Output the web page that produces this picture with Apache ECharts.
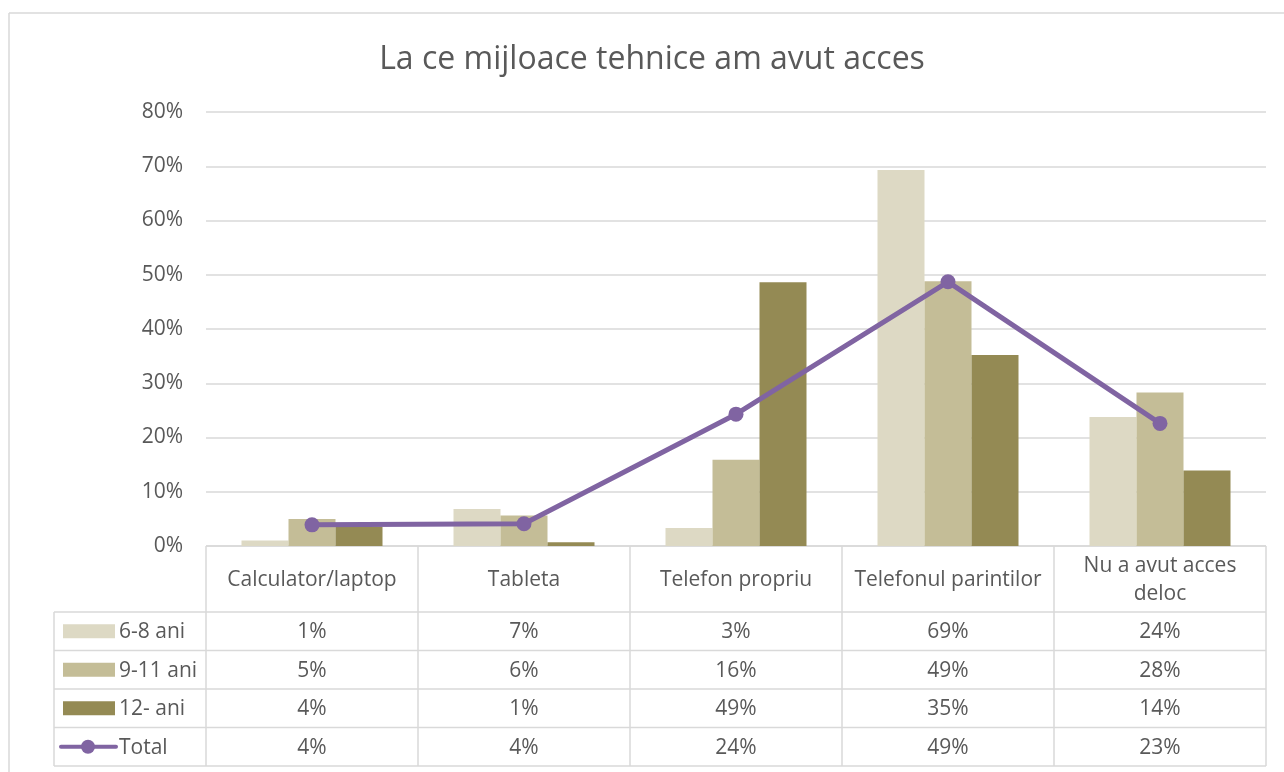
<!DOCTYPE html>
<html>
<head>
<meta charset="utf-8">
<script src="https://cdn.jsdelivr.net/npm/echarts@6/dist/echarts.min.js"></script>
<style>
html,body{margin:0;padding:0;background:#fff;}
#chart{width:1284px;height:772px;}
</style>
</head>
<body>
<div id="chart"></div>
<script>
const categories = ['Calculator/laptop', 'Tableta', 'Telefon propriu', 'Telefonul parintilor', 'Nu a avut acces\ndeloc'];
const seriesNames = ['6-8 ani', '9-11 ani', '12- ani', 'Total'];
const age6to8 = [1.0, 6.8, 3.3, 69.3, 23.8];
const age9to11 = [5.0, 5.6, 15.9, 48.8, 28.3];
const age12 = [3.6, 0.7, 48.6, 35.2, 13.9];
const total = [3.9, 4.1, 24.3, 48.7, 22.6];
const yTicks = [0, 10, 20, 30, 40, 50, 60, 70, 80];

const colors = ['#DDD9C4', '#C4BD97', '#948A54', '#8064A2'];
const FONT = '"Open Sans", "Noto Sans", sans-serif';
const TXT = '#595959';
const LINE = '#D9D9D9';

const W = 1284, H = 772;
const gridLeft = 206, gridRightX = 1266, gridTop = 112, axisBottom = 546;
const headerBottom = 612, tableBottom = 766, legendLeft = 54;

const chart = echarts.init(document.getElementById('chart'), null, {renderer: 'canvas'});

const barData = [age6to8, age9to11, age12];
const allRows = [age6to8, age9to11, age12, total];

function buildTable() {
  const g = [];
  const nCat = categories.length;
  const cw = (gridRightX - gridLeft) / nCat;
  const rowH = (tableBottom - headerBottom) / allRows.length;
  const ls = {stroke: LINE, lineWidth: 1.5};
  const font = '21px ' + FONT;
  g.push({type: 'line', shape: {x1: 9, y1: 13, x2: W, y2: 13}, style: {stroke: LINE, lineWidth: 1.5}, silent: true});
  g.push({type: 'line', shape: {x1: 9, y1: 13, x2: 9, y2: H}, style: {stroke: LINE, lineWidth: 1.5}, silent: true});
  g.push({type: 'line', shape: {x1: gridLeft, y1: axisBottom, x2: gridRightX, y2: axisBottom}, style: ls, silent: true});
  for (let r = 0; r <= allRows.length; r++) {
    const y = headerBottom + r * rowH;
    g.push({type: 'line', shape: {x1: legendLeft, y1: y, x2: gridRightX, y2: y}, style: ls, silent: true});
  }
  g.push({type: 'line', shape: {x1: legendLeft, y1: headerBottom, x2: legendLeft, y2: tableBottom}, style: ls, silent: true});
  for (let c = 0; c <= nCat; c++) {
    const x = gridLeft + c * cw;
    g.push({type: 'line', shape: {x1: x, y1: axisBottom, x2: x, y2: tableBottom}, style: ls, silent: true});
  }
  categories.forEach((name, c) => {
    g.push({type: 'text', x: gridLeft + (c + 0.5) * cw, y: (axisBottom + headerBottom) / 2 + 1,
      style: {text: name, fill: TXT, font: font, align: 'center', verticalAlign: 'middle', lineHeight: 28}, silent: true});
  });
  allRows.forEach((vals, r) => {
    const cy = headerBottom + (r + 0.5) * rowH;
    if (r < 3) {
      g.push({type: 'rect', shape: {x: 63, y: cy - 7, width: 52, height: 14}, style: {fill: colors[r]}, silent: true});
    } else {
      g.push({type: 'line', shape: {x1: 61, y1: cy, x2: 116, y2: cy}, style: {stroke: colors[3], lineWidth: 4, lineCap: 'round'}, silent: true});
      g.push({type: 'circle', shape: {cx: 88, cy: cy, r: 7}, style: {fill: colors[3]}, silent: true});
    }
    g.push({type: 'text', x: 119, y: cy + 1, style: {text: seriesNames[r], fill: TXT, font: font, align: 'left', verticalAlign: 'middle'}, silent: true});
    vals.forEach((v, c) => {
      g.push({type: 'text', x: gridLeft + (c + 0.5) * cw, y: cy + 1,
        style: {text: Math.round(v) + '%', fill: TXT, font: font, align: 'center', verticalAlign: 'middle'}, silent: true});
    });
  });
  return g;
}

const series = barData.map((d, i) => ({
  name: seriesNames[i], type: 'bar', data: d, barWidth: 47, barGap: '0%',
  itemStyle: {color: colors[i]}, silent: true
}));
series.push({
  name: seriesNames[3], type: 'line', data: total, symbol: 'circle', symbolSize: 15,
  lineStyle: {color: colors[3], width: 5}, itemStyle: {color: colors[3]}, z: 5, silent: true
});

chart.setOption({
  animation: false,
  backgroundColor: '#fff',
  title: {
    text: 'La ce mijloace tehnice am avut acces', left: 652, top: 44, textAlign: 'center', padding: 0,
    textStyle: {fontFamily: FONT, fontSize: 32, fontWeight: 'normal', color: TXT}
  },
  grid: {left: gridLeft, right: W - gridRightX, top: gridTop, bottom: H - axisBottom, containLabel: false},
  xAxis: {
    type: 'category', data: categories,
    axisLine: {show: false}, axisTick: {show: false}, axisLabel: {show: false}
  },
  yAxis: {
    type: 'value', min: yTicks[0], max: yTicks[yTicks.length - 1], interval: 10,
    axisLine: {show: false}, axisTick: {show: false},
    axisLabel: {formatter: '{value}%', color: TXT, fontFamily: FONT, fontSize: 21, margin: 23},
    splitLine: {lineStyle: {color: LINE, width: 1.5}}
  },
  series: series,
  graphic: buildTable()
});
</script>
</body>
</html>
